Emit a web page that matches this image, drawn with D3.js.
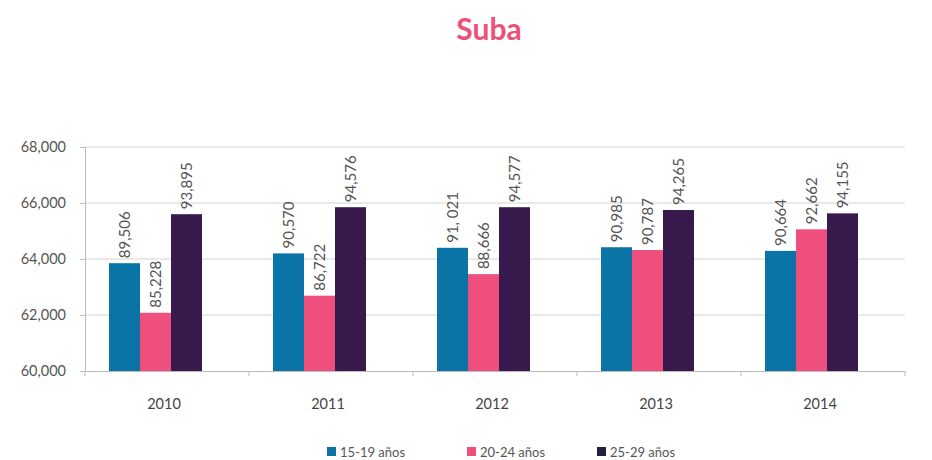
<!DOCTYPE html>
<html>
<head>
<meta charset="utf-8">
<script src="https://cdn.jsdelivr.net/npm/d3@7"></script>
<style>
  body { margin: 0; background: #fff; }
  svg text { font-family: "Lato", "Open Sans", sans-serif; }
</style>
</head>
<body>
<svg width="932" height="460"></svg>
<script>
// Data
const years = ["2010", "2011", "2012", "2013", "2014"];
const series = ["15-19 años", "20-24 años", "25-29 años"];
// bar heights as drawn on the axis
const bars1519 = [63850, 64200, 64400, 64420, 64290];
const bars2024 = [62080, 62690, 63460, 64320, 65060];
const bars2529 = [65600, 65850, 65850, 65750, 65630];
// value labels printed above the bars
const labels1519 = ["89,506", "90,570", "91, 021", "90,985", "90,664"];
const labels2024 = ["85,228", "86,722", "88,666", "90,787", "92,662"];
const labels2529 = ["93,895", "94,576", "94,577", "94,265", "94,155"];
const yTicks = [60000, 62000, 64000, 66000, 68000];
const colors = ["#0a74a6", "#ee4f7c", "#37194c"];
const legendColors = ["#0a74a6", "#ee4f7c", "#26203f"];

const barVals = [bars1519, bars2024, bars2529];
const labVals = [labels1519, labels2024, labels2529];

const margin = {top: 147, left: 85, right: 27, bottom: 89};
const width = 932 - margin.left - margin.right,
      height = 460 - margin.top - margin.bottom;

const svg = d3.select("svg");

// Title
svg.append("text")
    .attr("x", 489)
    .attr("y", 40)
    .attr("text-anchor", "middle")
    .style("font-size", "30px")
    .style("font-weight", "bold")
    .style("fill", "#ec5279")
    .text("Suba");

const g = svg.append("g")
    .attr("transform", `translate(${margin.left},${margin.top})`);

const x0 = d3.scaleBand().domain(years).range([0, width]);
const x1 = d3.scaleBand().domain(series).range([24, 117]);
const y = d3.scaleLinear().domain([60000, 68000]).range([height, 0]);

// Gridlines
g.selectAll(".grid")
    .data(yTicks.slice(1))
  .enter().append("line")
    .attr("x1", 0)
    .attr("x2", width)
    .attr("y1", d => y(d))
    .attr("y2", d => y(d))
    .attr("stroke", "#e2e2e2")
    .attr("stroke-width", 1.5);

// Y axis
const yAxis = g.append("g")
    .call(d3.axisLeft(y).tickValues(yTicks).tickSize(5).tickPadding(14).tickFormat(d3.format(",")));
yAxis.select(".domain").attr("stroke", "#bbb");
yAxis.selectAll(".tick line").attr("stroke", "#bbb");
yAxis.selectAll("text").style("font-size", "14.5px").style("fill", "#555");

// X axis
const xAxis = g.append("g")
    .attr("transform", `translate(0,${height})`)
    .call(d3.axisBottom(x0).tickSize(0).tickPadding(28));
xAxis.select(".domain").attr("stroke", "#bbb");
xAxis.selectAll("text").style("font-size", "14.5px").style("fill", "#444")
    .attr("dx", -3);
// boundary ticks
xAxis.selectAll(".bound")
    .data(d3.range(years.length + 1))
  .enter().append("line")
    .attr("x1", i => i * x0.bandwidth())
    .attr("x2", i => i * x0.bandwidth())
    .attr("y1", 0)
    .attr("y2", 5)
    .attr("stroke", "#bbb");

// Bars and labels
const groups = g.selectAll(".year")
    .data(years)
  .enter().append("g")
    .attr("transform", d => `translate(${x0(d)},0)`);

series.forEach((s, si) => {
    groups.append("rect")
        .attr("x", x1(s))
        .attr("y", (d, i) => y(barVals[si][i]))
        .attr("width", x1.bandwidth())
        .attr("height", (d, i) => height - y(barVals[si][i]))
        .attr("fill", colors[si]);

    groups.append("text")
        .attr("transform", (d, i) =>
            `translate(${x1(s) + x1.bandwidth() / 2 + 5},${y(barVals[si][i]) - 5}) rotate(-90)`)
        .attr("text-anchor", "start")
        .style("font-size", "15px")
        .style("fill", "#555")
        .text((d, i) => labVals[si][i]);
});

// Legend
const legendX = [327, 467, 597];
const legend = svg.selectAll(".legend")
    .data(series)
  .enter().append("g")
    .attr("transform", (d, i) => `translate(${legendX[i]},452)`);
legend.append("rect")
    .attr("x", 0)
    .attr("y", -5)
    .attr("width", 9)
    .attr("height", 9)
    .attr("fill", (d, i) => legendColors[i]);
legend.append("text")
    .attr("x", 13)
    .attr("y", 5)
    .style("font-size", "13px")
    .style("fill", "#555")
    .text(d => d);
</script>
</body>
</html>
